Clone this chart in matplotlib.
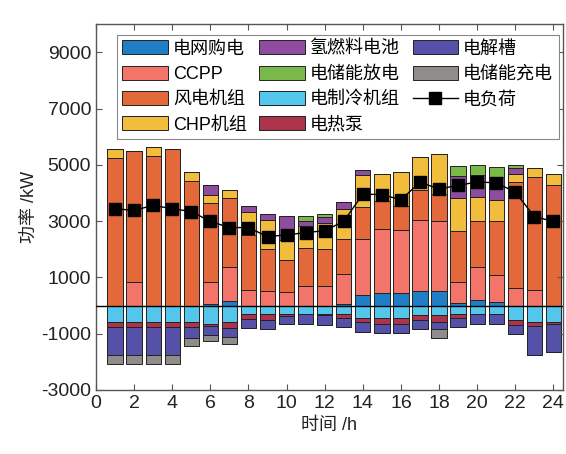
import numpy as np
import matplotlib
matplotlib.use("Agg")
import matplotlib.pyplot as plt

plt.rcParams['font.family'] = ['Liberation Sans', 'Noto Sans CJK SC', 'DejaVu Sans']
plt.rcParams['axes.unicode_minus'] = False

hours = list(range(1, 25))

# Supply side (kW)
grid_buy = [0, 0, 0, 0, 0, 50, 170, 0, 0, 0, 0, 0, 70, 360, 450, 450, 520, 520, 80, 190, 140, 0, 0, 0]
ccpp = [0, 850, 0, 0, 0, 780, 1210, 550, 510, 480, 710, 690, 1060, 2000, 2260, 2230, 2520, 2470, 770, 1180, 930, 620, 550, 0]
wind = [5240, 4640, 5310, 5570, 4420, 2800, 2430, 1960, 1490, 1140, 1350, 1310, 1250, 1130, 1010, 870, 1080, 980, 1790, 1620, 1920, 3780, 4030, 4300]
chp = [330, 0, 340, 0, 340, 280, 310, 800, 1040, 700, 750, 950, 1050, 1130, 950, 1190, 1160, 1430, 1180, 860, 770, 260, 290, 360]
h2_fc = [0, 0, 0, 0, 0, 360, 0, 210, 210, 850, 190, 190, 240, 210, 0, 0, 0, 0, 790, 800, 820, 210, 0, 0]
ess_dis = [0, 0, 0, 0, 0, 0, 0, 0, 0, 0, 170, 120, 0, 0, 0, 0, 0, 0, 360, 330, 330, 120, 0, 0]

# Consumption side (kW, negative)
chiller = [-600, -600, -600, -600, -600, -640, -600, -290, -310, -290, -290, -290, -290, -460, -460, -460, -320, -350, -290, -290, -290, -520, -600, -570]
heat_pump = [-180, -180, -180, -180, -160, -100, -210, -180, -190, -80, 0, -50, -150, -140, -180, -180, -200, -250, -140, 0, 0, -160, -120, -70]
electrolyzer = [-980, -980, -980, -980, -380, -320, -320, -320, -320, -270, -360, -340, -320, -330, -320, -320, -320, -240, -330, -350, -350, -320, -1020, -1010]
ess_chg = [-310, -310, -310, -310, -310, -210, -240, 0, 0, 0, 0, 0, 0, 0, 0, 0, 0, -310, 0, 0, 0, 0, 0, 0]

# Electric load (kW)
load = [3440, 3380, 3560, 3440, 3340, 2990, 2770, 2770, 2450, 2510, 2590, 2660, 2990, 3960, 3940, 3760, 4380, 4140, 4270, 4390, 4360, 4030, 3160, 2990]

pos_series = [
    ("电网购电", grid_buy, "#1f7ec6"),
    ("CCPP", ccpp, "#f3756a"),
    ("风电机组", wind, "#e4693a"),
    ("CHP机组", chp, "#f2bd3c"),
    ("氢燃料电池", h2_fc, "#8e4c9f"),
    ("电储能放电", ess_dis, "#7bb84a"),
]
neg_series = [
    ("电制冷机组", chiller, "#55c6eb"),
    ("电热泵", heat_pump, "#ab344c"),
    ("电解槽", electrolyzer, "#5551a8"),
    ("电储能充电", ess_chg, "#8f8c8a"),
]

fig = plt.figure(figsize=(5.66, 4.54), dpi=100)
ax = fig.add_axes([0.1696, 0.141, 0.825, 0.806])

x = np.array(hours)
width = 0.8
edge = dict(edgecolor="#222222", linewidth=0.7)
handles = {}

bottom = np.zeros(len(x))
for name, vals, col in pos_series:
    v = np.array(vals, dtype=float)
    b = ax.bar(x, v, width, bottom=bottom, color=col, **edge)
    handles[name] = b
    bottom += v

bottom = np.zeros(len(x))
for name, vals, col in neg_series:
    v = np.array(vals, dtype=float)
    b = ax.bar(x, v, width, bottom=bottom, color=col, **edge)
    handles[name] = b
    bottom += v

ax.axhline(0, color="black", linewidth=1.0, zorder=3)
ln, = ax.plot(x, load, color="black", linewidth=1.0, marker="s",
              markersize=9, markerfacecolor="black", zorder=4)
handles["电负荷"] = ln

ax.set_xlim(0, 24.5)
ax.set_ylim(-3000, 10000)
ax.set_xticks(range(0, 25, 2))
ax.set_yticks([-3000, -1000, 1000, 3000, 5000, 7000, 9000])
ax.tick_params(direction="in", length=4, width=0.8, labelsize=14,
               top=True, right=True, colors="#555555", labelcolor="#222222")
for s in ax.spines.values():
    s.set_color("#555555")
    s.set_linewidth(1.0)

ax.set_xlabel("时间 /h", fontsize=13, color="#222222")
ax.set_ylabel("功率 /kW", fontsize=13, color="#222222", labelpad=2)

order = ["电网购电", "CCPP", "风电机组", "CHP机组",
         "氢燃料电池", "电储能放电", "电制冷机组", "电热泵",
         "电解槽", "电储能充电", "电负荷"]
leg = ax.legend([handles[k] for k in order], order, ncol=3,
                loc="upper left", bbox_to_anchor=(0.045, 0.97),
                borderaxespad=0, fontsize=13, frameon=True, fancybox=False,
                edgecolor="#888888", framealpha=1, handlelength=2.5,
                handleheight=0.8, handletextpad=0.3, labelspacing=0.45,
                columnspacing=0.7, borderpad=0.3)
leg.get_frame().set_linewidth(0.8)

fig.savefig("out.png", dpi=100)
